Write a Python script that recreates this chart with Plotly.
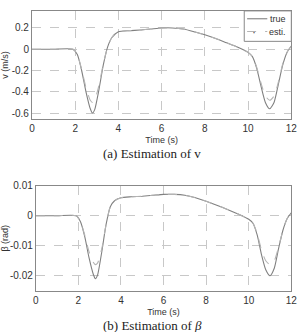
import plotly.graph_objects as go

# ---- data ----
t_v = [0, 1, 1.9, 2.1, 2.3, 2.5, 2.7, 2.8, 2.9, 3.1, 3.3, 3.5, 3.7, 4.0, 4.5, 5, 5.5, 6, 6.5, 7,
       7.5, 8, 8.5, 9, 9.5, 10, 10.2, 10.4, 10.6, 10.8, 11, 11.2, 11.4, 11.6, 11.8, 12]
v_true = [0, 0, 0, -0.05, -0.2, -0.4, -0.56, -0.6, -0.57, -0.38, -0.15, 0.02, 0.11, 0.165, 0.175,
          0.18, 0.19, 0.2, 0.2, 0.19, 0.165, 0.135, 0.1, 0.06, 0.02, -0.03, -0.07, -0.18, -0.35,
          -0.5, -0.56, -0.5, -0.33, -0.15, -0.03, 0.03]
v_est = [0, 0, 0, -0.05, -0.19, -0.36, -0.48, -0.5, -0.48, -0.34, -0.14, 0.02, 0.11, 0.165, 0.175,
         0.18, 0.19, 0.2, 0.2, 0.19, 0.165, 0.135, 0.1, 0.06, 0.02, -0.03, -0.07, -0.17, -0.32,
         -0.44, -0.48, -0.44, -0.31, -0.14, -0.03, 0.03]

t_b = [0, 1, 1.9, 2.1, 2.3, 2.5, 2.7, 2.8, 2.9, 3.1, 3.3, 3.5, 3.7, 4.0, 4.5, 5, 5.5, 6, 6.5, 7,
       7.5, 8, 8.5, 9, 9.5, 10, 10.2, 10.4, 10.6, 10.8, 11, 11.2, 11.4, 11.6, 11.8, 12]
b_true = [0, 0, 0, -0.002, -0.007, -0.014, -0.0195, -0.021, -0.0198, -0.012, -0.003, 0.003, 0.005,
          0.006, 0.0063, 0.0065, 0.0068, 0.0071, 0.0071, 0.0068, 0.006, 0.0048, 0.0035, 0.0021,
          0.0006, -0.0012, -0.0025, -0.0065, -0.013, -0.018, -0.02, -0.0175, -0.011, -0.005,
          -0.001, 0.001]
b_est = [0, 0, 0, -0.002, -0.0065, -0.012, -0.0155, -0.0163, -0.0158, -0.011, -0.003, 0.003, 0.005,
         0.006, 0.0063, 0.0065, 0.0068, 0.0071, 0.0071, 0.0068, 0.006, 0.0048, 0.0035, 0.0021,
         0.0006, -0.0012, -0.0025, -0.006, -0.0115, -0.015, -0.0163, -0.015, -0.0105, -0.005,
         -0.001, 0.001]

x_ticks = [0, 2, 4, 6, 8, 10, 12]
v_ticks = [-0.6, -0.4, -0.2, 0, 0.2]
v_ticklabels = ["-0.6", "-0.4", "-0.2", "0", "0.2"]
b_ticks = [-0.02, -0.01, 0, 0.01]
b_ticklabels = ["-0.02", "-0.01", "0", "0.01"]
legend_labels = ["true", "esti."]

W, H = 305, 332
true_color = "#808080"
est_color = "#b4b4b4"
grid_color = "#c8c8c8"
font = dict(family="Liberation Sans, Arial, sans-serif", size=10, color="#333")

fig = go.Figure()
fig.add_trace(go.Scatter(x=t_v, y=v_true, mode="lines", name=legend_labels[0],
                         line=dict(color=true_color, width=1.1, shape="spline", smoothing=0.6),
                         xaxis="x", yaxis="y"))
fig.add_trace(go.Scatter(x=t_v, y=v_est, mode="lines", name=legend_labels[1],
                         line=dict(color=est_color, width=1.1, dash="dash", shape="spline", smoothing=0.6),
                         xaxis="x", yaxis="y"))
fig.add_trace(go.Scatter(x=t_b, y=b_true, mode="lines", showlegend=False,
                         line=dict(color=true_color, width=1.1, shape="spline", smoothing=0.6),
                         xaxis="x2", yaxis="y2"))
fig.add_trace(go.Scatter(x=t_b, y=b_est, mode="lines", showlegend=False,
                         line=dict(color=est_color, width=1.1, dash="dash", shape="spline", smoothing=0.6),
                         xaxis="x2", yaxis="y2"))

common_axis = dict(showline=True, linecolor="#888", linewidth=1, mirror=True, showgrid=True,
                   gridcolor=grid_color, griddash="dash", gridwidth=1, zeroline=False,
                   ticks="", tickfont=dict(size=10, color="#333"))

fig.update_layout(
    width=W, height=H, margin=dict(l=0, r=0, t=0, b=0),
    paper_bgcolor="white", plot_bgcolor="white", font=font,
    showlegend=False,
    xaxis=dict(domain=[27 / W, 297 / W], range=[0, 12], tickvals=x_ticks, anchor="y",
               title=dict(text="Time (s)", font=dict(size=9), standoff=3), **common_axis),
    yaxis=dict(domain=[1 - 115 / H, 1 - 5 / H], range=[-0.655, 0.36], tickvals=v_ticks,
               ticktext=v_ticklabels, anchor="x",
               title=dict(text="v (m/s)", font=dict(size=9), standoff=4), **common_axis),
    xaxis2=dict(domain=[31 / W, 297 / W], range=[0, 12], tickvals=x_ticks, anchor="y2",
                title=dict(text="Time (s)", font=dict(size=9), standoff=3), **common_axis),
    yaxis2=dict(domain=[1 - 290 / H, 1 - 183 / H], range=[-0.025, 0.01], tickvals=b_ticks,
                ticktext=b_ticklabels, anchor="x2",
                title=dict(text="β (rad)", font=dict(size=9), standoff=4), **common_axis),
)

# compact legend box (top-right of upper panel)
lx0, lx1, ly0, ly1 = 248 / W, 297 / W, 1 - 36 / H, 1 - 5 / H
fig.add_shape(type="rect", xref="paper", yref="paper", x0=lx0, x1=lx1, y0=ly0, y1=ly1,
              line=dict(color="#888", width=1), fillcolor="white", layer="above")
for i, (lab, col, dash) in enumerate(zip(legend_labels, [true_color, est_color], ["solid", "dash"])):
    yy = 1 - (13 + 13 * i) / H
    fig.add_shape(type="line", xref="paper", yref="paper", x0=251 / W, x1=272 / W, y0=yy, y1=yy,
                  line=dict(color=col, width=1.1, dash=dash), layer="above")
    fig.add_annotation(text=lab, x=294 / W, y=yy, xref="paper", yref="paper", xanchor="right",
                       yanchor="middle", showarrow=False, font=dict(size=9, color="#333"))
fig.add_annotation(text="·", x=262 / W, y=1 - 26 / H, xref="paper", yref="paper", showarrow=False,
                   font=dict(size=12, color="#555"), yanchor="middle")

fig.add_annotation(text="(a) Estimation of v", x=152 / W, y=1 - 150 / H, xref="paper", yref="paper",
                   yanchor="middle", showarrow=False,
                   font=dict(family="Liberation Serif, Times New Roman, serif", size=13, color="#222"))
fig.add_annotation(text="(b) Estimation of <i>β</i>", x=152 / W, y=1 - 325 / H, xref="paper", yref="paper",
                   yanchor="middle", showarrow=False,
                   font=dict(family="Liberation Serif, Times New Roman, serif", size=13, color="#222"))

fig.write_html("out.html")
